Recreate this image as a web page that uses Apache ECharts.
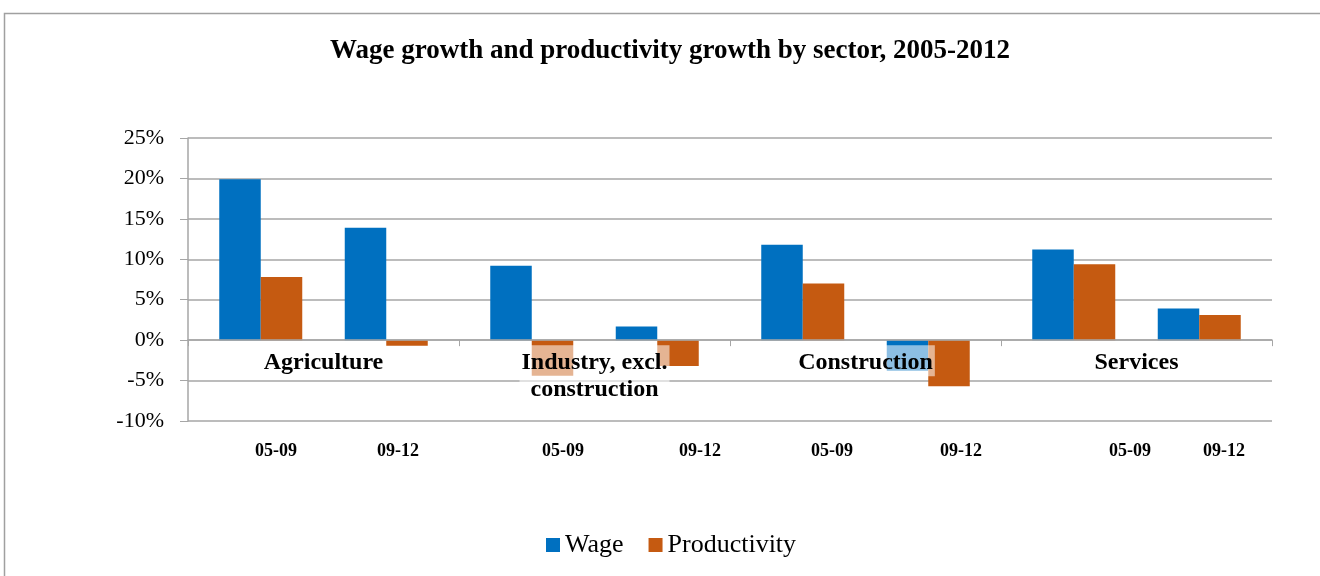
<!DOCTYPE html>
<html>
<head>
<meta charset="utf-8">
<script src="https://cdn.jsdelivr.net/npm/echarts@6/dist/echarts.min.js"></script>
<style>
  html, body {margin: 0; padding: 0; background: #fff;}
  #chart {width: 1320px; height: 576px;}
</style>
</head>
<body>
<div id="chart"></div>
<script>
// values in percent
const sectors = ['Agriculture', 'Industry, excl. construction', 'Construction', 'Services']
const wage0509 = [19.9, 9.2, 11.8, 11.2]
const prod0509 = [7.8, -4.4, 7.0, 9.4]
const wage0912 = [13.9, 1.7, -3.8, 3.9]
const prod0912 = [-0.7, -3.2, -5.7, 3.1]
const periods = ['05-09', '09-12']

// hand placed period captions under the plot (pixel x of each caption)
const periodLabelX = [255, 377, 542, 679, 811, 940, 1109, 1203]

const serif = "'Liberation Serif', 'Times New Roman', serif"
const blue = '#0070C0'
const orange = '#C55A11'
const gridGray = '#a6a6a6'

const yMin = -10
const yMax = 25
const gridTop = 138
const gridBottom = 155
const gridHeight = 576 - gridTop - gridBottom

function bar(name, data, color) {
  return {
    name: name,
    type: 'bar',
    data: data,
    barWidth: 41.5,
    barGap: '0%',
    itemStyle: {color: color}
  }
}

let captions = []
periodLabelX.forEach((x, i) => {
  captions.push({
    type: 'text',
    left: x,
    top: 442,
    style: {
      text: periods[i % 2],
      font: 'bold 18px ' + serif,
      fill: '#000',
      align: 'center'
    }
  })
})

let chart = echarts.init(document.getElementById('chart'))
chart.setOption({
  animation: false,
  title: {
    text: 'Wage growth and productivity growth by sector, 2005-2012',
    left: 330,
    top: 38,
    padding: 0,
    textStyle: {fontFamily: serif, fontSize: 27, fontWeight: 'bold', color: '#000'}
  },
  legend: {
    data: ['Wage', 'Productivity'],
    top: 532,
    left: 546,
    padding: 0,
    icon: 'rect',
    itemWidth: 14,
    itemHeight: 14,
    itemGap: 25,
    textStyle: {fontFamily: serif, fontSize: 26, color: '#000'}
  },
  grid: {left: 188, right: 48, top: gridTop, bottom: gridBottom, containLabel: false},
  xAxis: {
    type: 'category',
    data: sectors,
    z: 10,
    // category axis sits on the zero line, labels included
    offset: -gridHeight * (0 - yMin) / (yMax - yMin),
    axisLine: {onZero: false, lineStyle: {color: gridGray, width: 1.5}},
    axisTick: {show: true, length: 6, lineStyle: {color: gridGray}},
    axisLabel: {
      interval: 0,
      margin: 5,
      fontFamily: serif,
      fontSize: 24,
      fontWeight: 'bold',
      color: '#000',
      lineHeight: 27,
      padding: [4, 2, 0, 2],
      backgroundColor: 'rgba(255,255,255,0.55)',
      formatter: (v) => v.replace('excl. ', 'excl.\n')
    }
  },
  yAxis: {
    type: 'value',
    min: yMin,
    max: yMax,
    interval: 5,
    axisLine: {show: true, lineStyle: {color: gridGray, width: 1.5}},
    axisTick: {show: true, length: 8, lineStyle: {color: gridGray}},
    axisLabel: {
      formatter: '{value}%',
      margin: 24,
      fontFamily: serif,
      fontSize: 22,
      color: '#000'
    },
    splitLine: {lineStyle: {color: gridGray, width: 1.5}}
  },
  series: [
    bar('Wage', wage0509, blue),
    bar('Productivity', prod0509, orange),
    // empty slot that keeps the two periods of a sector apart
    {name: 'gap', type: 'bar', data: sectors.map(() => null), barWidth: 42.5, barGap: '0%'},
    bar('Wage', wage0912, blue),
    bar('Productivity', prod0912, orange)
  ],
  graphic: [
    {
      type: 'rect',
      left: 2,
      top: 11,
      silent: true,
      shape: {width: 1400, height: 700},
      style: {fill: 'none', stroke: '#a0a0a0', lineWidth: 1.5}
    }
  ].concat(captions)
})
</script>
</body>
</html>
